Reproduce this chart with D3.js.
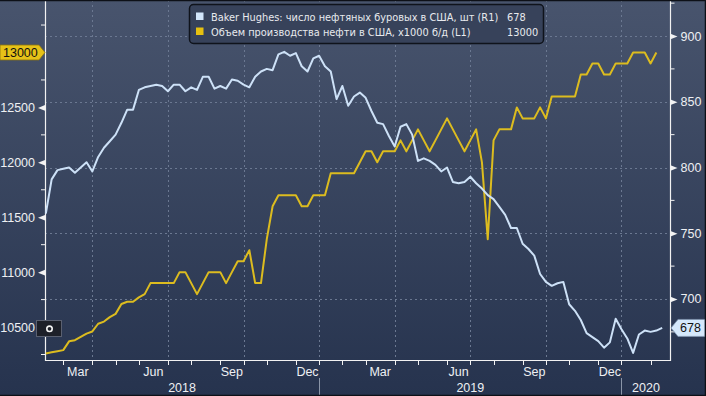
<!DOCTYPE html>
<html>
<head>
<meta charset="utf-8">
<script src="https://cdn.jsdelivr.net/npm/d3@7"></script>
<style>
  body { margin: 0; background: #27344f; }
  svg { display: block; }
  text { font-family: "Liberation Sans", Arial, sans-serif; }
</style>
</head>
<body>
<svg width="706" height="396"></svg>
<script>
// weekly data, first week = Fri 2 Feb 2018
var firstWeek = new Date(2018, 1, 2);

// Baker Hughes US oil rigs (R1), weekly
var rigCount = [
  765, 791, 798, 799, 800, 796, 800, 804, 797, 808, 815, 820, 825, 834, 844, 844,
  859, 861, 862, 863, 862, 858, 863, 863, 858, 861, 859, 869, 869, 860, 862, 860,
  867, 866, 863, 861, 869, 873, 875, 874, 886, 888, 885, 887, 877, 873, 883, 885,
  877, 873, 852, 862, 847, 854, 857, 853, 843, 834, 833, 824, 816, 831, 833, 825,
  805, 807, 805, 802, 797, 800, 789, 788, 789, 793, 788, 784, 779, 776, 770, 764,
  754, 754, 742, 738, 733, 719, 713, 710, 712, 713, 696, 691, 684, 674, 671, 668,
  663, 667, 685, 677, 670, 659, 673, 676, 675, 676, 678
];

// US crude output, x1000 b/d (L1), weekly
var oilOutput = [
  10260, 10270, 10280, 10290, 10370, 10380, 10410, 10440, 10460, 10530, 10550, 10590,
  10620, 10710, 10730, 10730, 10770, 10800, 10900, 10900, 10900, 10900, 10900, 11000,
  11000, 10900, 10800, 10900, 11000, 11000, 11000, 10900, 11000, 11100, 11100, 11200,
  10900, 10900, 11300, 11600, 11700, 11700, 11700, 11700, 11600, 11600, 11700, 11700,
  11700, 11900, 11900, 11900, 11900, 11900, 12000, 12100, 12100, 12000, 12100, 12100,
  12100, 12200, 12100, 12200, 12300, 12200, 12100, 12200, 12300, 12400, 12300, 12200,
  12100, 12200, 12300, 12000, 11300, 12200, 12300, 12300, 12300, 12500, 12400, 12400,
  12400, 12500, 12400, 12600, 12600, 12600, 12600, 12600, 12800, 12800, 12900, 12900,
  12800, 12800, 12900, 12900, 12900, 13000, 13000, 13000, 12900, 13000
];

var leftMajor = [10500, 11000, 11500, 12000, 12500];
var leftMinor = [10250, 10750, 11250, 11750, 12250, 12750, 13250];
var rightMajor = [700, 750, 800, 850, 900];
var rightMinor = [675, 725, 775, 825, 875, 925];
var years = ["2018", "2019", "2020"];

var rigLabel = "Baker Hughes: число нефтяных буровых в США, шт (R1)";
var oilLabel = "Объем производства нефти в США, x1000 б/д (L1)";

var svg = d3.select("svg");
var margin = { left: 45, right: 670.5, bottom: 360 };

var weekDate = function(i) { return d3.timeDay.offset(firstWeek, 7 * i); };

var x = d3.scaleTime()
  .domain([new Date(2018, 1, 1), new Date(2020, 1, 24)])
  .range([margin.left, margin.right]);
var yL = d3.scaleLinear().domain([10200, 13478]).range([margin.bottom, 0]);
var yR = d3.scaleLinear().domain([653.6, 927.4]).range([margin.bottom, 0]);

// background
var defs = svg.append("defs");
var grad = defs.append("linearGradient").attr("id", "bg")
  .attr("x1", 0).attr("y1", 0).attr("x2", 0).attr("y2", 1);
grad.append("stop").attr("offset", "0%").attr("stop-color", "#48546d");
grad.append("stop").attr("offset", "100%").attr("stop-color", "#26334e");
svg.append("rect").attr("width", 706).attr("height", 396).attr("fill", "url(#bg)");

// month ticks: last weekly point of every month
var months = d3.timeMonth.range(new Date(2018, 1, 1), new Date(2020, 1, 1));
var monthTicks = months.map(function(m) {
  return { month: m, date: d3.timeFriday.floor(d3.timeDay.offset(d3.timeMonth.offset(m, 1), -1)) };
});
var quarterTicks = monthTicks.filter(function(d) { return d.month.getMonth() % 3 === 2; });

// grid
var grid = svg.append("g").attr("stroke", "#6b7891").attr("stroke-dasharray", "2,3").attr("stroke-width", 1);
grid.selectAll("line.h").data(rightMajor).enter().append("line")
  .attr("x1", margin.left).attr("x2", margin.right)
  .attr("y1", function(d) { return Math.round(yR(d)) + 0.5; })
  .attr("y2", function(d) { return Math.round(yR(d)) + 0.5; });
grid.selectAll("line.v").data(quarterTicks).enter().append("line")
  .attr("x1", function(d) { return Math.round(x(d.date)) + 0.5; })
  .attr("x2", function(d) { return Math.round(x(d.date)) + 0.5; })
  .attr("y1", 0).attr("y2", margin.bottom);

// axis lines
var axisCol = "#f2f2f2";
svg.append("path")
  .attr("d", "M" + (margin.left + 0.5) + ",0V" + (margin.bottom + 0.5) + "H" + (margin.right) + "V0")
  .attr("fill", "none").attr("stroke", axisCol).attr("stroke-width", 1.2);

// left axis
var gL = svg.append("g").attr("transform", "translate(" + margin.left + ",0)")
  .call(d3.axisLeft(yL).tickValues(leftMajor).tickSize(0).tickPadding(10).tickFormat(d3.format("d")));
gL.select(".domain").remove();
gL.selectAll(".tick").append("path").attr("d", "M0,-2.8L-7,0L0,2.8Z").attr("fill", axisCol);
gL.selectAll(".tick text").attr("fill", "#eef0f3").attr("font-size", 12.5);
gL.selectAll(".minor").data(leftMinor).enter().append("line")
  .attr("x1", -4).attr("x2", 0)
  .attr("y1", function(d) { return yL(d); }).attr("y2", function(d) { return yL(d); })
  .attr("stroke", axisCol);

// right axis
var gR = svg.append("g").attr("transform", "translate(" + margin.right + ",0)")
  .call(d3.axisRight(yR).tickValues(rightMajor).tickSize(0).tickPadding(10));
gR.select(".domain").remove();
gR.selectAll(".tick").append("path").attr("d", "M0,-2.8L7,0L0,2.8Z").attr("fill", axisCol);
gR.selectAll(".tick text").attr("fill", "#eef0f3").attr("font-size", 12.5);
gR.selectAll(".minor").data(rightMinor).enter().append("line")
  .attr("x1", 0).attr("x2", 4)
  .attr("y1", function(d) { return yR(d); }).attr("y2", function(d) { return yR(d); })
  .attr("stroke", axisCol);

// bottom axis
var gB = svg.append("g");
gB.selectAll("line.t").data(monthTicks).enter().append("line")
  .attr("x1", function(d) { return Math.round(x(d.date)) + 0.5; })
  .attr("x2", function(d) { return Math.round(x(d.date)) + 0.5; })
  .attr("y1", margin.bottom).attr("y2", margin.bottom + 5)
  .attr("stroke", axisCol);

var fmtMonth = d3.timeFormat("%b");
gB.selectAll("text.m").data(quarterTicks).enter().append("text")
  .attr("x", function(d) {
    var prev = monthTicks[monthTicks.indexOf(d) - 1];
    var x0 = prev ? x(prev.date) : margin.left;
    return (x0 + x(d.date)) / 2;
  })
  .attr("y", 376).attr("text-anchor", "middle")
  .attr("fill", "#eef0f3").attr("font-size", 12.5)
  .text(function(d) { return fmtMonth(d.month); });

// year separators at last week of December
var decTicks = quarterTicks.filter(function(d) { return d.month.getMonth() === 11; });
var bounds = [margin.left].concat(decTicks.map(function(d) { return x(d.date); }), [margin.right]);
gB.selectAll("line.y").data(decTicks).enter().append("line")
  .attr("x1", function(d) { return Math.round(x(d.date)) + 0.5; })
  .attr("x2", function(d) { return Math.round(x(d.date)) + 0.5; })
  .attr("y1", 378).attr("y2", 395)
  .attr("stroke", "#8a95a8");
gB.selectAll("text.y").data(years).enter().append("text")
  .attr("x", function(d, i) { return (bounds[i] + bounds[i + 1]) / 2; })
  .attr("y", 392).attr("text-anchor", "middle")
  .attr("fill", "#eef0f3").attr("font-size", 12.5)
  .text(function(d) { return d; });

// lines
var oilLine = d3.line()
  .x(function(d, i) { return x(weekDate(i)); })
  .y(function(d) { return yL(d); });
var rigLine = d3.line()
  .x(function(d, i) { return x(weekDate(i)); })
  .y(function(d) { return yR(d); });

svg.append("path").datum(oilOutput)
  .attr("d", oilLine).attr("fill", "none")
  .attr("stroke", "#dcbc1f").attr("stroke-width", 2).attr("stroke-linejoin", "round");
svg.append("path").datum(rigCount)
  .attr("d", rigLine).attr("fill", "none")
  .attr("stroke", "#cde1f7").attr("stroke-width", 2).attr("stroke-linejoin", "round");

// last value tags
var lastOil = oilOutput[oilOutput.length - 1];
var lastRig = rigCount[rigCount.length - 1];

var ty = yL(lastOil);
svg.append("path")
  .attr("d", "M0," + (ty - 7.5) + "H39L45," + ty + "L39," + (ty + 7.5) + "H0Z")
  .attr("fill", "#e6c218").attr("stroke", "#8a7410").attr("stroke-width", 0.8);
svg.append("text").attr("x", 3).attr("y", ty + 4.5)
  .attr("fill", "#111").attr("font-size", 12.5).text(lastOil);

var ry = yR(lastRig);
svg.append("path")
  .attr("d", "M671," + ry + "L678," + (ry - 8.5) + "H705V" + (ry + 8.5) + "H678Z")
  .attr("fill", "#d5e8fb").attr("stroke", "#7e93ad").attr("stroke-width", 0.8);
svg.append("text").attr("x", 680).attr("y", ry + 4.5)
  .attr("fill", "#111").attr("font-size", 12.5).text(lastRig);

// small control button
svg.append("rect").attr("x", 36.5).attr("y", 320.5).attr("width", 25).attr("height", 16)
  .attr("fill", "#1d2029").attr("stroke", "#5a6070");
svg.append("circle").attr("cx", 49.5).attr("cy", 328.8).attr("r", 2.7)
  .attr("fill", "none").attr("stroke", "#f4f4f4").attr("stroke-width", 1.6);

// legend
var lg = svg.append("g");
lg.append("rect").attr("x", 189.5).attr("y", 4.5).attr("width", 354).attr("height", 39).attr("rx", 4)
  .attr("fill", "#37425a").attr("stroke", "#0f131b").attr("stroke-width", 1.5);
var items = [
  { label: rigLabel, value: lastRig, color: "#d2e6fb" },
  { label: oilLabel, value: lastOil, color: "#e6c010" }
];
var row = lg.selectAll("g.row").data(items).enter().append("g")
  .attr("transform", function(d, i) { return "translate(0," + (i * 15) + ")"; });
row.append("rect").attr("x", 196).attr("y", 12.5).attr("width", 7.5).attr("height", 7.5)
  .attr("fill", function(d) { return d.color; });
row.append("text").attr("x", 211).attr("y", 20.5)
  .attr("fill", "#e8eaee").attr("font-size", 9.8).style("font-family", "'DejaVu Sans', sans-serif")
  .text(function(d) { return d.label; });
row.append("text").attr("x", 507).attr("y", 20.5)
  .attr("fill", "#e8eaee").attr("font-size", 9.8).style("font-family", "'DejaVu Sans', sans-serif")
  .text(function(d) { return d.value; });

// frame
svg.append("path").attr("d", "M0,0.5H705.5V395.5H0")
  .attr("fill", "none").attr("stroke", "#0d1017").attr("stroke-width", 1.5);
</script>
</body>
</html>
